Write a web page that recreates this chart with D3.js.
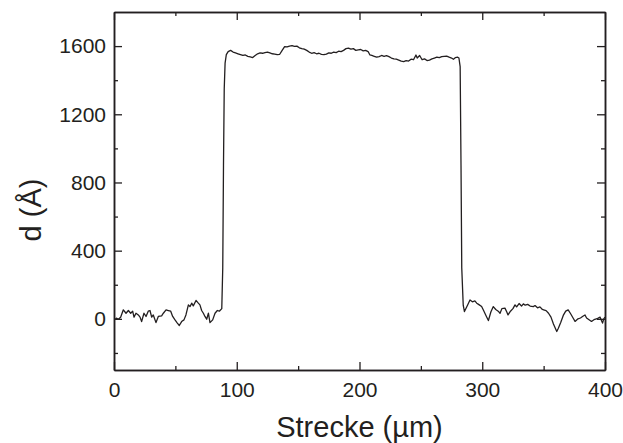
<!DOCTYPE html>
<html>
<head>
<meta charset="utf-8">
<script src="https://cdn.jsdelivr.net/npm/d3@7"></script>
<style>
  body { margin: 0; background: #fff; }
  text { font-family: "Liberation Sans", Arial, sans-serif; fill: #231f20; }
</style>
</head>
<body>
<div id="chart_area"></div>
<script>
// profile data: position (µm) and thickness d (Å)
var strecke = [0, 0.8, 2.2, 3.5, 5.4, 7.6, 9.8, 11.7, 13.6, 15.2, 16.3, 17.9, 19.8, 21.2, 22.5, 24.4, 26.1, 27.9, 29.3, 30.7,
  32, 34.2, 36.1, 38.8, 40.2, 42.4, 44.3, 46.2, 47.8, 49.7, 51.6, 53.2, 55.1, 57, 58.6, 60.6, 61.9, 63.3, 64.6, 66.8,
  68.7, 70, 71.4, 72.8, 74.1, 75.5, 76.9, 78.2, 80.4, 82.3, 84.2, 85.8, 86.9,
  87.8, 88.6, 89.2, 89.8, 90.5, 91.5, 93, 95, 97, 99, 101, 103, 105, 107, 109, 111, 113, 115, 117, 119, 121, 123,
  125, 127, 129, 131, 133, 135, 137, 139, 141, 143, 145, 147, 149, 151, 153, 155, 157, 159, 161, 163, 165, 167, 169,
  171, 173, 175, 177, 179, 181, 183, 185, 187, 189, 191, 193, 195, 197, 199, 201, 203, 205, 207, 208.5, 210, 212,
  214, 216, 218, 220, 222, 224, 226, 228, 230, 232, 234, 236, 238, 240, 242, 244, 246, 247, 249, 251, 253, 255, 257,
  259, 261, 263, 265, 267, 269, 271, 273, 275, 276.5, 278, 280, 281, 282, 282.7, 283.3, 284.5, 285.5,
  288, 290, 292, 294, 295.5, 297, 299.5, 301, 303, 305, 307, 309, 311, 313, 314.5, 316, 318.5, 320, 321, 323, 325,
  326.7, 328, 330, 332, 333.5, 335, 337, 339, 341.6, 343, 345, 347, 349, 350, 352, 354, 356, 358, 360.7, 362, 364,
  366, 368, 370, 372, 374, 375.6, 378, 380, 382, 383.7, 385, 387, 389, 391, 393, 394.5, 396, 398, 399, 400];
var dicke = [-2, -2, 4, -2, 10, 53, 33, 49, 33, 45, 10, 33, 23, 10, -16, 33, 14, 45, 49, 10,
  23, -22, 14, 18, 33, 53, 49, 45, 14, -6, -25, -39, -16, -6, 23, 82, 72, 92, 76, 108,
  92, 82, 49, 33, 14, -2, 33, -22, -6, 33, 49, 45, 53,
  60, 300, 900, 1350, 1500, 1550, 1568, 1575, 1565, 1560, 1555, 1550, 1545, 1548, 1540, 1537, 1533, 1545, 1555, 1560, 1558, 1562,
  1565, 1560, 1555, 1553, 1550, 1552, 1575, 1597, 1595, 1600, 1603, 1598, 1600, 1590, 1585, 1582, 1575, 1565, 1558, 1562, 1555, 1558, 1552,
  1550, 1553, 1560, 1558, 1565, 1562, 1570, 1568, 1575, 1585, 1588, 1582, 1585, 1575, 1578, 1580, 1572, 1575, 1568, 1548, 1545, 1540,
  1535, 1538, 1545, 1540, 1544, 1538, 1530, 1525, 1523, 1518, 1512, 1509, 1515, 1512, 1523, 1520, 1548, 1530, 1545, 1520, 1525, 1515, 1518,
  1525, 1530, 1535, 1532, 1538, 1540, 1541, 1535, 1530, 1523, 1532, 1535, 1530, 1480, 900, 300, 80, 43,
  80, 111, 100, 105, 92, 85, 72, 50, 20, -10, 40, 72, 55, 45, 33, 60, 63, 40, 23, 45, 60,
  82, 70, 90, 75, 88, 80, 85, 75, 72, 78, 65, 70, 55, 53, 48, 33, 10, -30, -74, -55, -20,
  20, 45, 53, 30, 5, -15, 0, 5, 15, 23, 5, -5, -15, -5, 0, 4, 10, -25, 0, 10];

var xMajor = [0, 100, 200, 300, 400];
var xMinor = [50, 150, 250, 350];
var yMajor = [0, 400, 800, 1200, 1600];
var yMinor = [-200, 200, 600, 1000, 1400];

var frame_width = 623, frame_height = 443;
var margin = {top: 12, right: 18, bottom: 73, left: 114};
var canvas_width = frame_width - margin.left - margin.right;
var canvas_height = frame_height - margin.top - margin.bottom;

var frame = d3.select("#chart_area").append("svg")
  .attr("width", frame_width)
  .attr("height", frame_height);
var canvas = frame.append("g")
  .attr("transform", "translate(" + margin.left + "," + margin.top + ")");

var xScale = d3.scaleLinear().domain([0, 400]).range([0, canvas_width]);
var yScale = d3.scaleLinear().domain([-300, 1800]).range([canvas_height, 0]);

function styleAxis(g) {
  g.select(".domain").attr("stroke", "#231f20").attr("stroke-width", 1.5);
  g.selectAll(".tick line").attr("stroke", "#231f20").attr("stroke-width", 1.3);
  g.selectAll("text").attr("font-size", 21).attr("fill", "#231f20")
    .attr("font-family", "'Liberation Sans', Arial, sans-serif");
}

var plain = d3.format("d");

// bottom axis with labels + minor ticks
canvas.append("g").attr("transform", "translate(0," + canvas_height + ")")
  .call(d3.axisBottom(xScale).tickValues(xMajor).tickFormat(plain).tickSizeInner(-8).tickSizeOuter(0).tickPadding(12))
  .call(styleAxis);
canvas.append("g").attr("transform", "translate(0," + canvas_height + ")")
  .call(d3.axisBottom(xScale).tickValues(xMinor).tickSizeInner(-4).tickSizeOuter(0).tickFormat(""))
  .call(styleAxis);
// top axis, ticks only
canvas.append("g")
  .call(d3.axisTop(xScale).tickValues(xMajor).tickSizeInner(-8).tickSizeOuter(0).tickFormat(""))
  .call(styleAxis);
canvas.append("g")
  .call(d3.axisTop(xScale).tickValues(xMinor).tickSizeInner(-4).tickSizeOuter(0).tickFormat(""))
  .call(styleAxis);
// left axis
canvas.append("g")
  .call(d3.axisLeft(yScale).tickValues(yMajor).tickFormat(plain).tickSizeInner(-8).tickSizeOuter(0).tickPadding(8))
  .call(styleAxis);
canvas.append("g")
  .call(d3.axisLeft(yScale).tickValues(yMinor).tickSizeInner(-4).tickSizeOuter(0).tickFormat(""))
  .call(styleAxis);
// right axis
canvas.append("g").attr("transform", "translate(" + canvas_width + ",0)")
  .call(d3.axisRight(yScale).tickValues(yMajor).tickSizeInner(-8).tickSizeOuter(0).tickFormat(""))
  .call(styleAxis);
canvas.append("g").attr("transform", "translate(" + canvas_width + ",0)")
  .call(d3.axisRight(yScale).tickValues(yMinor).tickSizeInner(-4).tickSizeOuter(0).tickFormat(""))
  .call(styleAxis);

// profile line
var line = d3.line()
  .x(function(d, i) { return xScale(strecke[i]); })
  .y(function(d) { return yScale(d); });
canvas.append("path")
  .datum(dicke)
  .attr("fill", "none")
  .attr("stroke", "#231f20")
  .attr("stroke-width", 1.3)
  .attr("stroke-linejoin", "round")
  .attr("d", line);

// axis titles
frame.append("text")
  .attr("x", margin.left + canvas_width / 2)
  .attr("y", 437)
  .attr("text-anchor", "middle")
  .attr("font-size", 29)
  .text("Strecke (µm)");
frame.append("text")
  .attr("transform", "translate(41,210) rotate(-90)")
  .attr("text-anchor", "middle")
  .attr("font-size", 29)
  .text("d (Å)");
</script>
</body>
</html>
